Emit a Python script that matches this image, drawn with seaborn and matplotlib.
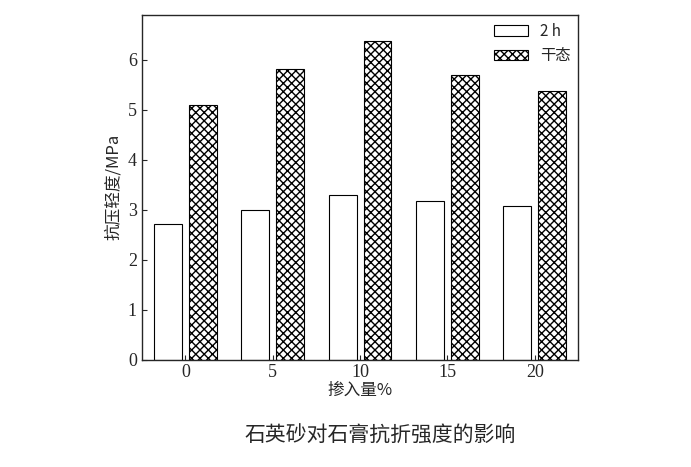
import matplotlib
matplotlib.use("Agg")
import matplotlib.pyplot as plt
import seaborn as sns
import pandas as pd

categories = ["0", "5", "10", "15", "20"]
vals_2h = [2.72, 3.0, 3.3, 3.17, 3.08]
vals_dry = [5.1, 5.82, 6.38, 5.7, 5.37]
series = ["2 h", "干态"]

df = pd.DataFrame({
    "cat": categories * 2,
    "val": vals_2h + vals_dry,
    "s": [series[0]] * 5 + [series[1]] * 5,
})

sns.set_style("ticks")
plt.rcParams['font.family'] = ['Noto Sans CJK SC', 'DejaVu Sans']
fig = plt.figure(figsize=(6.91, 4.67), dpi=100)
ax = fig.add_axes([0.205, 0.23, 0.632, 0.738])
sns.barplot(data=df, x="cat", y="val", hue="s", palette=["white", "white"],
            edgecolor="black", linewidth=0.8, width=0.8, gap=0.2, ax=ax)
for i, p in enumerate(ax.patches[:10]):
    if i >= 5:
        p.set_hatch("xxxx")
ax.set_ylim(0, 6.9)
ax.set_yticks(range(7))
ax.set_xlabel("掺入量%", fontsize=12, labelpad=0)
ax.set_ylabel("抗压轻度/MPa", fontsize=12)
ax.tick_params(labelsize=13, direction="in")
for t in ax.get_xticklabels() + ax.get_yticklabels():
    t.set_fontfamily(["Liberation Serif"])
leg = ax.legend(loc="upper right", frameon=False, fontsize=11, handlelength=2.2,
                borderaxespad=0.1)
handles = leg.legend_handles
handles[1].set_hatch("xxxx")
handles[1].set_edgecolor("black")
handles[0].set_edgecolor("black")
for sp in ax.spines.values():
    sp.set_linewidth(1)
fig.text(0.55, 0.055, "石英砂对石膏抗折强度的影响", ha="center", fontsize=15)
fig.savefig("out.png", dpi=100)
